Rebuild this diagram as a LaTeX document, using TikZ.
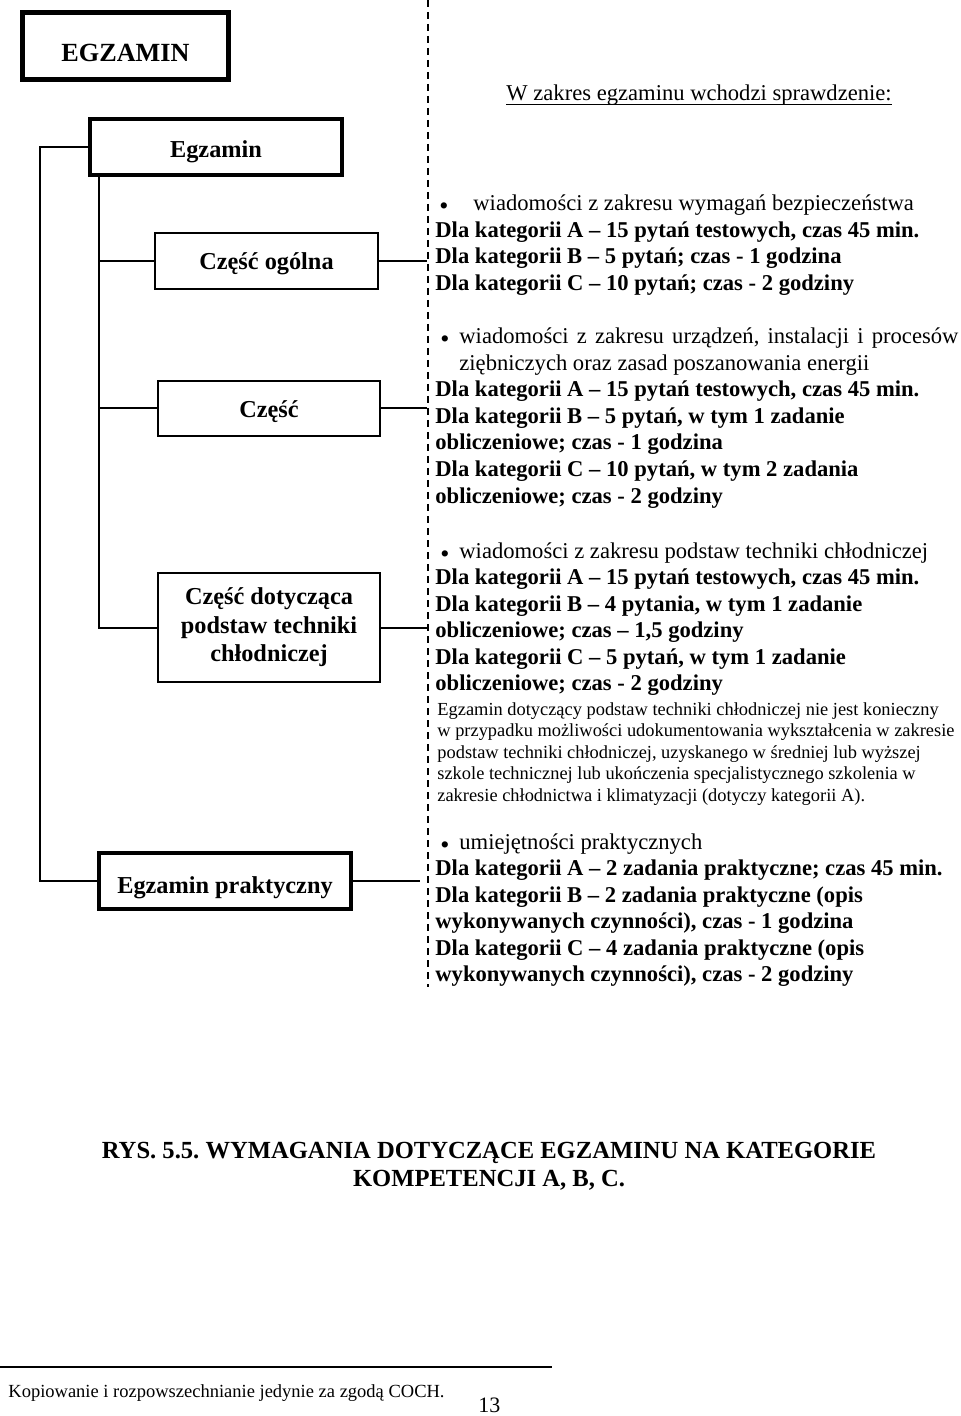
\documentclass[tikz,border=0pt]{standalone}
\usepackage{fontspec}
\setmainfont{Liberation Serif}
\begin{document}
\frenchspacing
\begin{tikzpicture}[x=0.5pt,y=-0.5pt,
  conn/.style={line width=1pt},
  box/.style={draw, line width=1pt, inner sep=0pt, align=center, text depth=0pt,
    font=\fontsize{12.15}{14.25}\selectfont\bfseries},
  txt/.style={anchor=base west, inner sep=0pt, font=\fontsize{11.3}{13.25}\selectfont},
  btxt/.style={txt, font=\fontsize{11.3}{13.25}\selectfont\bfseries},
  stxt/.style={txt, font=\fontsize{9.2}{10.8}\selectfont},
  bul/.style={txt, font=\fontsize{13}{13}\selectfont},
  dashline/.style={line width=1pt, dash pattern=on 3.5pt off 2.5pt}
]
\path[use as bounding box] (0,0) rectangle (960,1416);

% boxes
\node[box, line width=2.5pt, minimum width=103pt, minimum height=33.5pt, text height=16pt,
      font=\fontsize{13.1}{15}\selectfont\bfseries] (top) at (125.5,46) {EGZAMIN};
\node[box, line width=2pt, minimum width=126pt, minimum height=28pt, text height=11pt] (egz) at (216,147) {Egzamin};
\node[box, minimum width=111.5pt, minimum height=28pt, text height=9pt] (ogol) at (266.5,261) {Część ogólna};
\node[box, minimum width=111pt, minimum height=27.5pt, text height=9.5pt] (czesc) at (269,408.5) {Część};
\node[box, minimum width=111pt, minimum height=54.5pt, text depth=, ] (dot) at (269,627.5) {Część dotycząca\\podstaw techniki\\chłodniczej};
\node[box, line width=2pt, minimum width=126pt, minimum height=28pt, text height=12pt] (prak) at (225,881) {Egzamin praktyczny};

% tree connectors
\coordinate (L1) at (40,147);
\coordinate (T) at (99,175);
\draw[conn] (egz.west) -- (L1) |- (prak.west);
\draw[conn] (T) |- (ogol.west);
\draw[conn] (T) |- (czesc.west);
\draw[conn] (T) |- (dot.west);

% dashed separator
\coordinate (dtop) at (428,0);
\coordinate (dbot) at (428,987);
\draw[dashline] (dtop) -- (dbot);

% right connectors
\coordinate (r1) at (427,261);
\coordinate (r2) at (427,408.5);
\coordinate (r3) at (427,627.5);
\coordinate (r4) at (420,881);
\draw[conn] (ogol.east) -- (r1);
\draw[conn] (czesc.east) -- (r2);
\draw[conn] (dot.east) -- (r3);
\draw[conn] (prak.east) -- (r4);

% heading
\node[txt] (head) at (506,101) {W zakres egzaminu wchodzi sprawdzenie:};
\draw[line width=0.6pt] ([yshift=-1.8pt]head.base west) -- ([yshift=-1.8pt]head.base east);

% block 1
\node[bul] (b1) at (439,215) {•};
\node[txt] (a1) at (473,211) {wiadomości z zakresu wymagań bezpieczeństwa};
\node[btxt] (a2) at (435,237.5) {Dla kategorii A – 15 pytań testowych, czas 45 min.};
\node[btxt] (a3) at (435,264) {Dla kategorii B – 5 pytań; czas - 1 godzina};
\node[btxt] (a4) at (435,290.5) {Dla kategorii C – 10 pytań; czas - 2 godziny};

% block 2
\node[bul] (b2) at (440,348) {•};
\node[txt] (c1) at (459,344) {\makebox[249.5pt][s]{wiadomości z zakresu urządzeń, instalacji i procesów}};
\node[txt] (c2) at (459,370.5) {ziębniczych oraz zasad poszanowania energii};
\node[btxt] (c3) at (435,397) {Dla kategorii A – 15 pytań testowych, czas 45 min.};
\node[btxt] (c4) at (435,423.5) {Dla kategorii B – 5 pytań, w tym 1 zadanie};
\node[btxt] (c5) at (435,450) {obliczeniowe; czas - 1 godzina};
\node[btxt] (c6) at (435,476.5) {Dla kategorii C – 10 pytań, w tym 2 zadania};
\node[btxt] (c7) at (435,503) {obliczeniowe; czas - 2 godziny};

% block 3
\node[bul] (b3) at (440,562) {•};
\node[txt] (d1) at (459,558) {wiadomości z zakresu podstaw techniki chłodniczej};
\node[btxt] (d2) at (435,584.5) {Dla kategorii A – 15 pytań testowych, czas 45 min.};
\node[btxt] (d3) at (435,611) {Dla kategorii B – 4 pytania, w tym 1 zadanie};
\node[btxt] (d4) at (435,637.5) {obliczeniowe; czas – 1,5 godziny};
\node[btxt] (d5) at (435,664) {Dla kategorii C – 5 pytań, w tym 1 zadanie};
\node[btxt] (d6) at (435,690.5) {obliczeniowe; czas - 2 godziny};
\node[stxt] (e1) at (437,715) {Egzamin dotyczący podstaw techniki chłodniczej nie jest konieczny};
\node[stxt] (e2) at (437,736.5) {w przypadku możliwości udokumentowania wykształcenia w zakresie};
\node[stxt] (e3) at (437,758) {podstaw techniki chłodniczej, uzyskanego w średniej lub wyższej};
\node[stxt] (e4) at (437,779.5) {szkole technicznej lub ukończenia specjalistycznego szkolenia w};
\node[stxt] (e5) at (437,801) {zakresie chłodnictwa i klimatyzacji (dotyczy kategorii A).};

% block 4
\node[bul] (b4) at (440,853) {•};
\node[txt] (f1) at (459,849) {umiejętności praktycznych};
\node[btxt] (f2) at (435,875.5) {Dla kategorii A – 2 zadania praktyczne; czas 45 min.};
\node[btxt] (f3) at (435,902) {Dla kategorii B – 2 zadania praktyczne (opis};
\node[btxt] (f4) at (435,928.5) {wykonywanych czynności), czas - 1 godzina};
\node[btxt] (f5) at (435,955) {Dla kategorii C – 4 zadania praktyczne (opis};
\node[btxt] (f6) at (435,981.5) {wykonywanych czynności), czas - 2 godziny};

% caption
\node[anchor=base, inner sep=0pt, font=\fontsize{12.3}{14}\selectfont\bfseries] (cap1) at (489,1158)
  {RYS. 5.5. WYMAGANIA DOTYCZĄCE EGZAMINU NA KATEGORIE};
\node[anchor=base, inner sep=0pt, font=\fontsize{12.3}{14}\selectfont\bfseries] (cap2) at (489,1186)
  {KOMPETENCJI A, B, C.};

% footer
\coordinate (fl) at (0,1367);
\coordinate (fr) at (552,1367);
\draw[line width=1.2pt] (fl) -- (fr);
\node[anchor=base west, inner sep=0pt, font=\fontsize{9.25}{11}\selectfont] (foot) at (8,1397)
  {Kopiowanie i rozpowszechnianie jedynie za zgodą COCH.};
\node[anchor=base west, inner sep=0pt, font=\fontsize{11}{13}\selectfont] (page) at (478,1412) {13};
\end{tikzpicture}
\end{document}
